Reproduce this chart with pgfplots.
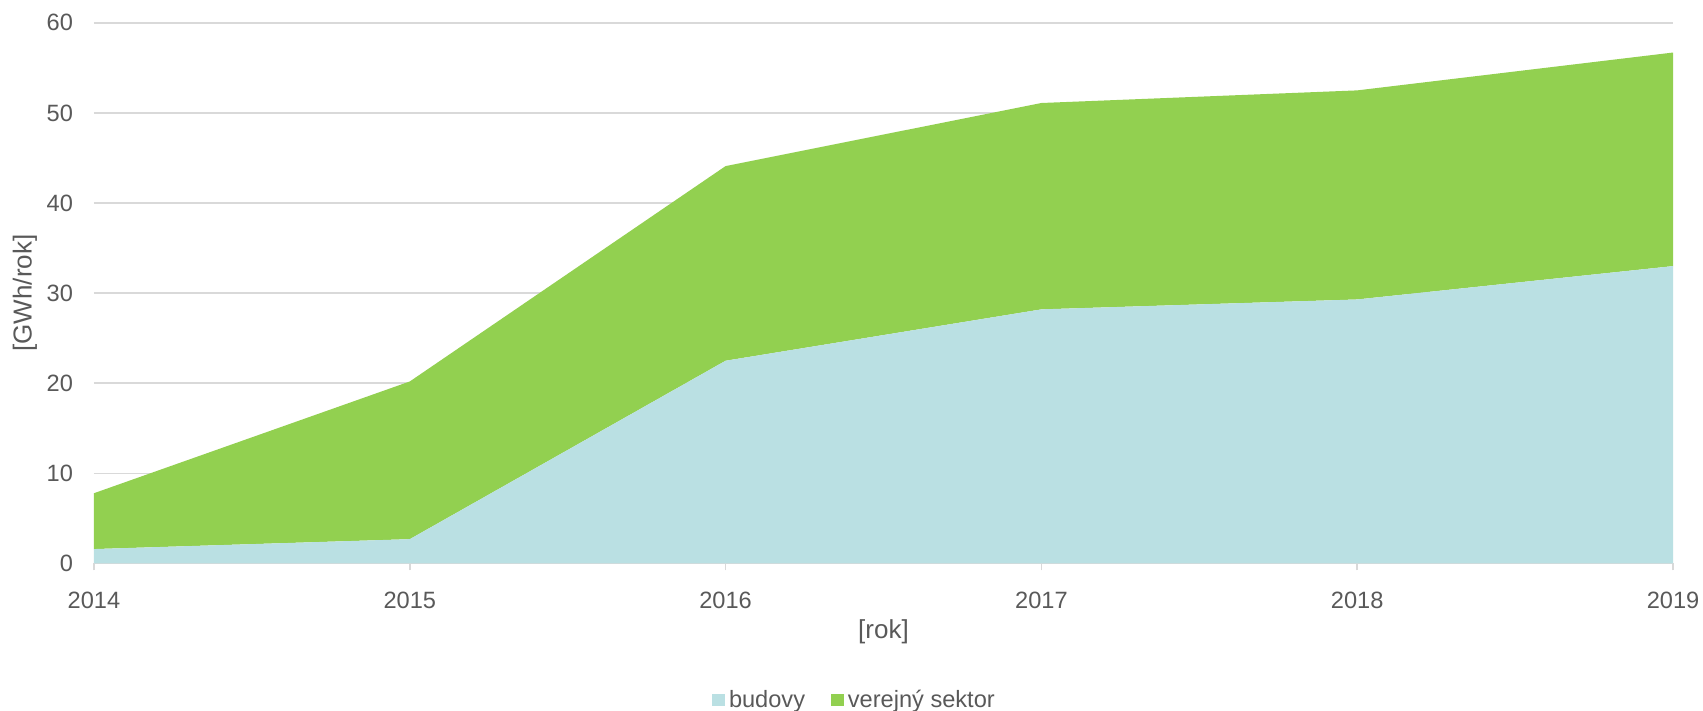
\documentclass[border=0pt]{standalone}
\usepackage{pgfplots}
\pgfplotsset{compat=1.18}
\usepackage{fontspec}
\setmainfont{Liberation Sans}
\definecolor{txt}{HTML}{595959}
\definecolor{gridc}{HTML}{D9D9D9}
\definecolor{budc}{HTML}{BAE0E3}
\definecolor{verc}{HTML}{92D050}
\begin{document}
\begin{tikzpicture}
\useasboundingbox (-47pt,-73.75pt) rectangle (804.5pt,281.75pt);
\begin{axis}[
  scale only axis,
  width=789.5pt, height=270.35pt,
  xmin=2014, xmax=2019, ymin=0, ymax=60,
  xtick={2014,2015,2016,2017,2018,2019},
  ytick={0,10,20,30,40,50,60},
  xticklabels={2014,2015,2016,2017,2018,2019},
  axis line style={draw=none},
  axis x line*=bottom,
  x axis line style={draw=gridc, line width=0.8pt},
  axis y line*=left,
  y axis line style={draw=none},
  ymajorgrids, grid style={draw=gridc, line width=0.8pt},
  major y tick style={draw=none},
  major x tick style={draw=gridc, line width=0.8pt},
  xtick align=outside, major tick length=3.5pt,
  tick label style={font=\fontsize{11.8}{14}\selectfont, text=txt},
  /pgf/number format/assume math mode=true,
  yticklabel style={anchor=east, xshift=-7pt},
  xticklabel style={anchor=center, yshift=-15pt},
  xlabel={[rok]}, ylabel={[GWh/rok]},
  label style={font=\fontsize{13}{15}\selectfont, text=txt},
  xlabel style={at={(axis description cs:0.5,0)}, anchor=center, yshift=-34pt},
  ylabel style={at={(axis description cs:0,0.5)}, anchor=center, yshift=34.5pt},
  stack plots=y,
  legend columns=2,
  legend style={draw=none, fill=none, at={(380.75pt,-68.25pt)}, anchor=center,
    font=\fontsize{11.8}{14}\selectfont, text=txt,
    /tikz/every even column/.append style={column sep=11pt}},
  legend cell align=left,
  legend image code/.code={\fill[#1] (0pt,-3.2pt) rectangle (6.4pt,3.2pt);},
]
\addplot[draw=none, fill=budc] coordinates {
 (2014,1.6) (2015,2.7) (2016,22.5) (2017,28.2) (2018,29.3) (2019,33.0)} \closedcycle;
\addlegendentry{budovy}
\addplot[draw=none, fill=verc] coordinates {
 (2014,6.2) (2015,17.5) (2016,21.6) (2017,22.9) (2018,23.2) (2019,23.7)} \closedcycle;
\addlegendentry{verejný sektor}
\end{axis}
\end{tikzpicture}
\end{document}
